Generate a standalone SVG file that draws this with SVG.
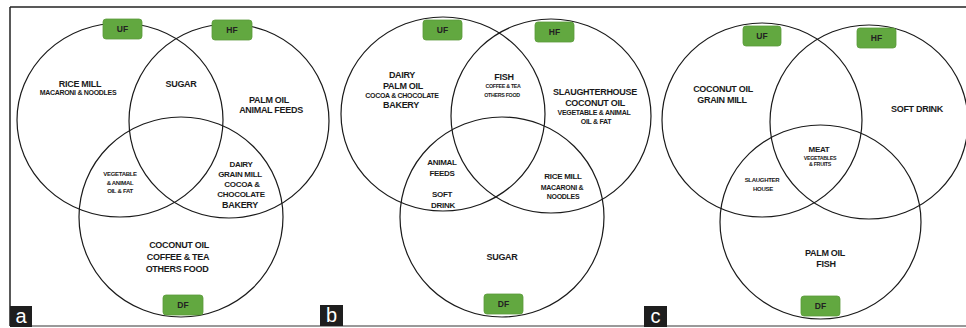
<svg xmlns="http://www.w3.org/2000/svg" width="966" height="328" viewBox="0 0 966 328">
<style>
.c{fill:none;stroke:#1a1a1a;stroke-width:1.2}
.b{fill:#62a840;stroke:#5a9a3a;stroke-width:0.8}
.bt{font-family:"Liberation Sans",Arial,sans-serif;font-weight:bold;font-size:8.5px;fill:#222;text-anchor:middle}
.t{font-family:"Liberation Sans",Arial,sans-serif;font-weight:bold;fill:#1a1a1a;text-anchor:middle;letter-spacing:-0.3px}
.s9{font-size:9px}.s8{font-size:8px}.s7{font-size:7px}.s6{font-size:6px}.s5{font-size:5.3px}
.lb{fill:#1e1e1e}
.lt{font-family:"Liberation Sans",Arial,sans-serif;font-size:20px;fill:#fff;text-anchor:middle}
</style>
<rect width="966" height="328" fill="#fff"/>
<g id="frame">
<line x1="10" y1="7" x2="966" y2="7" stroke="#222" stroke-width="1.5"/>
<line x1="10" y1="7" x2="10" y2="326" stroke="#222" stroke-width="1.5"/>
<line x1="10" y1="326" x2="966" y2="326" stroke="#999" stroke-width="2"/>
</g>

<!-- Panel a -->
<g id="panel-a">
<g id="a-circles">
<ellipse class="c" cx="120" cy="120" rx="103" ry="97"/>
<ellipse class="c" cx="229" cy="121" rx="100" ry="97"/>
<ellipse class="c" cx="181" cy="217" rx="102" ry="100"/>
</g>
<g id="a-UF"><rect class="b" x="103" y="19" width="39" height="20" rx="3"/><text class="bt" x="122.5" y="32">UF</text></g>
<g id="a-HF"><rect class="b" x="212" y="20" width="40" height="20" rx="3"/><text class="bt" x="232" y="33">HF</text></g>
<g id="a-DF"><rect class="b" x="163" y="295" width="40" height="20" rx="3"/><text class="bt" x="183" y="308">DF</text></g>
<g id="a-uf-only"><text class="t s9" x="80" y="87">RICE MILL</text><text class="t s7" x="78" y="95">MACARONI &amp; NOODLES</text></g>
<g id="a-uf-hf"><text class="t s9" x="181" y="87">SUGAR</text></g>
<g id="a-hf-only"><text class="t s9" x="269" y="103">PALM OIL</text><text class="t s9" x="271" y="113">ANIMAL FEEDS</text></g>
<g id="a-uf-df"><text class="t s6" x="120" y="176">VEGETABLE</text><text class="t s6" x="120" y="184.5">&amp; ANIMAL</text><text class="t s6" x="120" y="193">OIL &amp; FAT</text></g>
<g id="a-hf-df"><text class="t s8" x="241" y="167">DAIRY</text><text class="t s8" x="240" y="177">GRAIN MILL</text><text class="t s8" x="242" y="187">COCOA &amp;</text><text class="t s8" x="241" y="197">CHOCOLATE</text><text class="t s9" x="240" y="208">BAKERY</text></g>
<g id="a-df-only"><text class="t s9" x="179" y="248">COCONUT OIL</text><text class="t s9" x="178" y="260">COFFEE &amp; TEA</text><text class="t s9" x="177" y="272">OTHERS FOOD</text></g>
<g id="a-label"><rect class="lb" x="10" y="306" width="22" height="21"/><text class="lt" x="21" y="323">a</text></g>
</g>

<!-- Panel b -->
<g id="panel-b">
<g id="b-circles">
<ellipse class="c" cx="443" cy="114" rx="102" ry="97"/>
<ellipse class="c" cx="551" cy="116" rx="100" ry="97"/>
<ellipse class="c" cx="502" cy="217" rx="102" ry="100"/>
</g>
<g id="b-UF"><rect class="b" x="423" y="20" width="39" height="20" rx="3"/><text class="bt" x="442.5" y="33">UF</text></g>
<g id="b-HF"><rect class="b" x="535" y="22" width="39" height="20" rx="3"/><text class="bt" x="554.5" y="35">HF</text></g>
<g id="b-DF"><rect class="b" x="484" y="294" width="39" height="20" rx="3"/><text class="bt" x="503.5" y="307">DF</text></g>
<g id="b-uf-only"><text class="t s9" x="402" y="78">DAIRY</text><text class="t s9" x="403" y="89">PALM OIL</text><text class="t s7" x="402" y="98">COCOA &amp; CHOCOLATE</text><text class="t s9" x="401" y="108">BAKERY</text></g>
<g id="b-uf-hf"><text class="t s9" x="504" y="80">FISH</text><text class="t s5" x="503" y="88">COFFEE &amp; TEA</text><text class="t s5" x="502" y="96.5">OTHERS FOOD</text></g>
<g id="b-hf-only"><text class="t s9" x="595" y="95">SLAUGHTERHOUSE</text><text class="t s9" x="595" y="106">COCONUT OIL</text><text class="t s7" x="594" y="115">VEGETABLE &amp; ANIMAL</text><text class="t s7" x="596" y="124">OIL &amp; FAT</text></g>
<g id="b-uf-df"><text class="t s8" x="442" y="165">ANIMAL</text><text class="t s8" x="442" y="176">FEEDS</text><text class="t s8" x="442" y="197">SOFT</text><text class="t s8" x="443" y="208">DRINK</text></g>
<g id="b-hf-df"><text class="t s8" x="563" y="179">RICE MILL</text><text class="t s7" x="562" y="190">MACARONI &amp;</text><text class="t s7" x="563" y="198.5">NOODLES</text></g>
<g id="b-df-only"><text class="t s9" x="502" y="260">SUGAR</text></g>
<g id="b-label"><rect class="lb" x="320" y="305" width="23" height="21"/><text class="lt" x="331.5" y="322">b</text></g>
</g>

<!-- Panel c -->
<g id="panel-c">
<g id="c-circles">
<ellipse class="c" cx="762" cy="120" rx="100" ry="97"/>
<ellipse class="c" cx="869" cy="122" rx="99" ry="97"/>
<ellipse class="c" cx="820.5" cy="222" rx="100.5" ry="97"/>
</g>
<g id="c-UF"><rect class="b" x="743" y="26" width="38" height="20" rx="3"/><text class="bt" x="762" y="39">UF</text></g>
<g id="c-HF"><rect class="b" x="857" y="28" width="39" height="20" rx="3"/><text class="bt" x="876.5" y="41">HF</text></g>
<g id="c-DF"><rect class="b" x="801" y="296" width="39" height="20" rx="3"/><text class="bt" x="820.5" y="309">DF</text></g>
<g id="c-uf-only"><text class="t s9" x="723" y="92">COCONUT OIL</text><text class="t s9" x="722" y="103">GRAIN MILL</text></g>
<g id="c-hf-only"><text class="t s9" x="917" y="112">SOFT DRINK</text></g>
<g id="c-center"><text class="t s8" x="819" y="152">MEAT</text><text class="t s5" x="820" y="159.5">VEGETABLES</text><text class="t s5" x="820" y="166">&amp; FRUITS</text></g>
<g id="c-uf-df"><text class="t s6" x="762" y="182">SLAUGHTER</text><text class="t s6" x="763" y="191">HOUSE</text></g>
<g id="c-df-only"><text class="t s9" x="825" y="256">PALM OIL</text><text class="t s9" x="826" y="267">FISH</text></g>
<g id="c-label"><rect class="lb" x="644" y="306" width="23" height="21"/><text class="lt" x="655.5" y="323">c</text></g>
</g>
</svg>
